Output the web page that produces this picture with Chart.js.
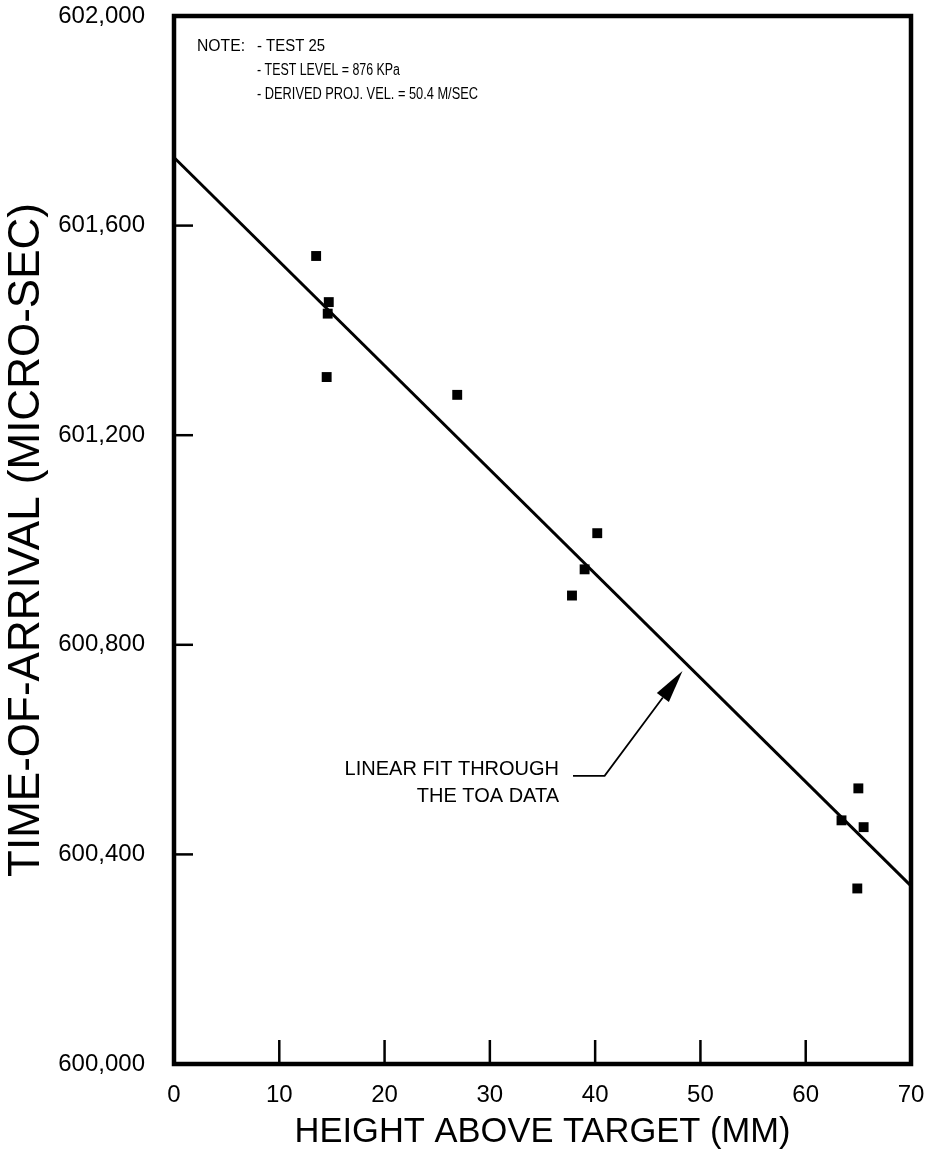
<!DOCTYPE html>
<html>
<head>
<meta charset="utf-8">
<title>Time-of-arrival vs height above target</title>
<style>
  html, body { margin: 0; padding: 0; background: #fff; }
  canvas { display: block; }
</style>
<script src="https://cdn.jsdelivr.net/npm/chart.js@4.4.1/dist/chart.umd.min.js"></script>
</head>
<body>
<canvas id="toaChart" width="937" height="1156"></canvas>
<script>
// Measured time-of-arrival samples (test 25)
const heightMM    = [13.5, 14.7, 14.6, 14.5, 26.9, 37.8, 39.0, 40.2, 65.0, 63.4, 65.5, 64.9];
const toaMicroSec = [601542, 601454, 601432, 601311, 601277, 600894, 600944, 601013, 600526, 600465, 600452, 600335];

// End points of the linear fit across the plotted range
const fitHeightMM = [0, 70];
const fitToa      = [601730, 600340];

// Axis tick values
const xTickValues = [0, 10, 20, 30, 40, 50, 60, 70];
const yTickValues = [600000, 600400, 600800, 601200, 601600, 602000];

// Annotation text
const noteHead  = 'NOTE:';
const noteLines = ['- TEST 25', '- TEST LEVEL = 876 KPa', '- DERIVED PROJ. VEL. = 50.4 M/SEC'];
const fitLabelLines = ['LINEAR FIT THROUGH', 'THE TOA DATA'];

const FONT = '"Liberation Sans", Arial, Helvetica, sans-serif';

// Frame, inward tick marks, note block and the arrow callout
const decorations = {
  id: 'decorations',
  afterDatasetsDraw(chart) {
    const { ctx, chartArea: a, scales: { x, y } } = chart;
    ctx.save();
    ctx.strokeStyle = '#000';
    ctx.fillStyle = '#000';

    // inward tick marks
    ctx.lineWidth = 2.5;
    xTickValues.slice(1, -1).forEach(v => {
      const px = x.getPixelForValue(v);
      ctx.beginPath(); ctx.moveTo(px, a.bottom); ctx.lineTo(px, a.bottom - 24); ctx.stroke();
    });
    yTickValues.slice(1, -1).forEach(v => {
      const py = y.getPixelForValue(v);
      ctx.beginPath(); ctx.moveTo(a.left, py); ctx.lineTo(a.left + 19, py); ctx.stroke();
    });

    // heavy frame
    ctx.lineWidth = 4.5;
    ctx.lineJoin = 'miter';
    ctx.strokeRect(a.left, a.top, a.right - a.left, a.bottom - a.top);

    // note block
    ctx.font = '16px ' + FONT;
    ctx.textBaseline = 'alphabetic';
    ctx.textAlign = 'left';
    ctx.fillText(noteHead, a.left + 23, a.top + 35, 48);
    const noteW = [68, 143, 221];
    noteLines.forEach((t, i) => ctx.fillText(t, a.left + 83, a.top + 35 + i * 24, noteW[i]));

    // arrow callout pointing at the fit line
    const tip   = { x: x.getPixelForValue(48.3), y: y.getPixelForValue(600750) };
    const elbow = { x: x.getPixelForValue(40.9), y: y.getPixelForValue(600550) };
    const end   = { x: x.getPixelForValue(37.9), y: y.getPixelForValue(600550) };
    const ang = Math.atan2(tip.y - elbow.y, tip.x - elbow.x);
    const headLen = 33, headHalf = 7.5;
    const bx = tip.x - headLen * Math.cos(ang), by = tip.y - headLen * Math.sin(ang);
    ctx.lineWidth = 1.8;
    ctx.beginPath();
    ctx.moveTo(end.x, end.y); ctx.lineTo(elbow.x, elbow.y); ctx.lineTo(bx, by);
    ctx.stroke();
    ctx.beginPath();
    ctx.moveTo(tip.x, tip.y);
    ctx.lineTo(bx + headHalf * Math.sin(ang), by - headHalf * Math.cos(ang));
    ctx.lineTo(bx - headHalf * Math.sin(ang), by + headHalf * Math.cos(ang));
    ctx.closePath();
    ctx.fill();

    ctx.font = '20px ' + FONT;
    ctx.textAlign = 'right';
    const labelW = [217, 145];
    fitLabelLines.forEach((t, i) => ctx.fillText(t, end.x - 14, end.y - 1 + i * 27, labelW[i]));

    ctx.restore();
  }
};

new Chart(document.getElementById('toaChart'), {
  data: {
    datasets: [
      {
        type: 'scatter',
        label: 'TOA data',
        data: heightMM.map((h, i) => ({ x: h, y: toaMicroSec[i] })),
        pointStyle: 'rect',
        pointRadius: 7,
        backgroundColor: '#000',
        borderColor: '#000',
        borderWidth: 0,
        order: 0
      },
      {
        type: 'line',
        label: 'Linear fit',
        data: fitHeightMM.map((h, i) => ({ x: h, y: fitToa[i] })),
        borderColor: '#000',
        borderWidth: 3,
        pointRadius: 0,
        fill: false,
        order: 1
      }
    ]
  },
  options: {
    responsive: false,
    animation: false,
    events: [],
    layout: { padding: { top: 16, right: 26, left: 0, bottom: 0 } },
    plugins: { legend: { display: false }, tooltip: { enabled: false } },
    scales: {
      x: {
        type: 'linear',
        min: 0, max: 70,
        afterBuildTicks: s => { s.ticks = xTickValues.map(v => ({ value: v })); },
        afterFit: s => { s.height = 92; s.paddingLeft = 0; s.paddingRight = 0; },
        grid: { display: false, drawTicks: false },
        border: { display: false },
        ticks: {
          padding: 17,
          color: '#000',
          font: { family: FONT, size: 24 },
          maxRotation: 0,
          callback: v => String(v)
        },
        title: {
          display: true,
          text: 'HEIGHT ABOVE TARGET (MM)',
          color: '#000',
          font: { family: FONT, size: 34.5 },
          padding: { top: 0, bottom: 3 }
        }
      },
      y: {
        type: 'linear',
        min: 600000, max: 602000,
        afterBuildTicks: s => { s.ticks = yTickValues.map(v => ({ value: v })); },
        afterFit: s => { s.width = 174; s.paddingTop = 0; s.paddingBottom = 0; },
        grid: { display: false, drawTicks: false },
        border: { display: false },
        ticks: {
          padding: 29,
          color: '#000',
          font: { family: FONT, size: 24 },
          callback: v => Number(v).toLocaleString('en-US')
        },
        title: {
          display: true,
          text: 'TIME-OF-ARRIVAL (MICRO-SEC)',
          color: '#000',
          font: { family: FONT, size: 44 },
          padding: { top: 0, bottom: 0 }
        }
      }
    }
  },
  plugins: [decorations]
});
</script>
</body>
</html>
